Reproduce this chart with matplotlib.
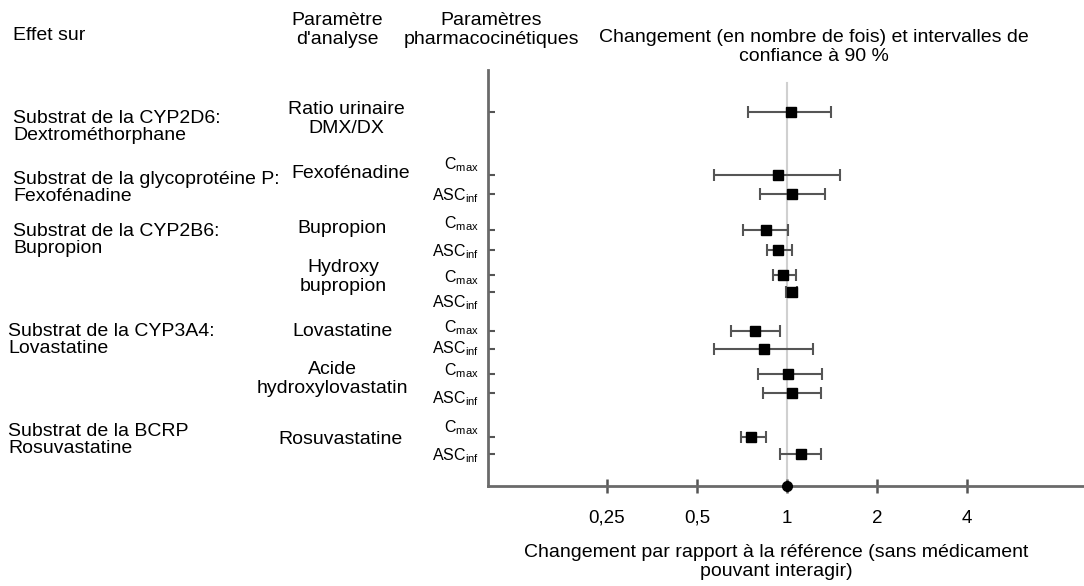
import numpy as np
from matplotlib import pyplot as plt

plt.rcParams['font.family'] = ['Liberation Sans', 'DejaVu Sans']

# valeurs (rapport, IC 90 %)
params = ['DMX/DX', 'Cmax', 'ASCinf', 'Cmax', 'ASCinf', 'Cmax', 'ASCinf',
          'Cmax', 'ASCinf', 'Cmax', 'ASCinf', 'Cmax', 'ASCinf']
ratio = [1.03, 0.93, 1.04, 0.85, 0.93, 0.97, 1.04, 0.78, 0.84, 1.01, 1.04, 0.76, 1.11]
ci_low = [0.74, 0.57, 0.81, 0.71, 0.86, 0.90, 0.99, 0.65, 0.57, 0.80, 0.83, 0.70, 0.95]
ci_high = [1.40, 1.50, 1.34, 1.01, 1.04, 1.07, 1.08, 0.95, 1.22, 1.31, 1.30, 0.85, 1.30]

effets = ['Substrat de la CYP2D6:\nDextrométhorphane',
          'Substrat de la glycoprotéine P:\nFexofénadine',
          'Substrat de la CYP2B6:\nBupropion',
          'Substrat de la CYP3A4:\nLovastatine',
          'Substrat de la BCRP\nRosuvastatine']
analyses = ['Ratio urinaire\nDMX/DX', 'Fexofénadine', 'Bupropion', 'Hydroxy\nbupropion',
            'Lovastatine', 'Acide\nhydroxylovastatin', 'Rosuvastatine']
xticks = [0.25, 0.5, 1, 2, 4]
xticklabels = ['0,25', '0,5', '1', '2', '4']

# mise en page (pixels dans l'image 1084x586)
W, H = 1084, 586
row_y = [112, 175, 194, 230, 250, 275, 292, 331, 349, 374, 393, 437, 454]
lab_y = [None, 165, 196, 224, 252, 278, 303, 328, 349, 371, 399, 428, 456]
effet_pos = [(13, 127), (13, 188), (13, 240), (8, 340), (8, 440)]
analyse_pos = [(346, 119), (351, 174), (342, 229), (343, 277), (342, 331), (332, 379), (340, 439)]

def fx(x):
    return x / W

def fy(y):
    return 1 - y / H

fig = plt.figure(figsize=(W / 100, H / 100), dpi=100)
ax = fig.add_axes([fx(488), fy(486), fx(W - 488), (486 - 70) / H])
ax.set_xscale('log', base=2)
ax.set_xlim(0.1, 0.1 * 2 ** (596 / 90))
ax.set_ylim(486, 70)

grey = '#555555'
ax.axvline(1, ymin=0, ymax=(486 - 83) / (486 - 70), color='#d0d0d0', lw=1.5, zorder=1)

r = np.array(ratio)
err = [r - np.array(ci_low), np.array(ci_high) - r]
ax.errorbar(r, row_y, xerr=err, fmt='s', color='black', ms=7, ecolor=grey,
            elinewidth=1.5, capsize=4.5, capthick=1.5, zorder=3)
ax.plot([1], [486], 'o', color='black', ms=7, clip_on=False, zorder=4)

for s in ['top', 'right']:
    ax.spines[s].set_visible(False)
for s in ['left', 'bottom']:
    ax.spines[s].set_color('#6a6a6a')
    ax.spines[s].set_linewidth(2)

ax.set_xticks(xticks)
ax.set_xticklabels(xticklabels, fontsize=13.5)
ax.minorticks_off()
ax.tick_params(axis='x', direction='inout', length=10, width=1.8, color='#555555', pad=12)
ax.set_yticks(row_y)
ax.set_yticklabels([])
ax.tick_params(axis='y', direction='in', length=5, width=1.5, color='#555555')

# libellés Cmax / ASCinf
for p, ly in zip(params, lab_y):
    if ly is None:
        continue
    if p == 'Cmax':
        txt = r'C$_{\mathregular{max}}$'
    else:
        txt = r'ASC$_{\mathregular{inf}}$'
    fig.text(fx(479), fy(ly), txt, ha='right', va='center', fontsize=11.5)

fs = 14
for t, (x, y) in zip(effets, effet_pos):
    fig.text(fx(x), fy(y), t, ha='left', va='center', fontsize=fs, linespacing=1.0)
for t, (x, y) in zip(analyses, analyse_pos):
    fig.text(fx(x), fy(y), t, ha='center', va='center', fontsize=fs, linespacing=1.1)

fig.text(fx(13), fy(36), 'Effet sur', ha='left', va='center', fontsize=fs)
fig.text(fx(337), fy(30), "Paramètre\nd'analyse", ha='center', va='center', fontsize=fs, linespacing=1.15)
fig.text(fx(491), fy(30), 'Paramètres\npharmacocinétiques', ha='center', va='center', fontsize=fs,
         linespacing=1.15)
fig.text(fx(814), fy(47), 'Changement (en nombre de fois) et intervalles de\nconfiance à 90 %',
         ha='center', va='center', fontsize=fs, linespacing=1.1)
fig.text(fx(776), fy(562), 'Changement par rapport à la référence (sans médicament\npouvant interagir)',
         ha='center', va='center', fontsize=fs, linespacing=1.2)

fig.savefig('out.png', dpi=100)
